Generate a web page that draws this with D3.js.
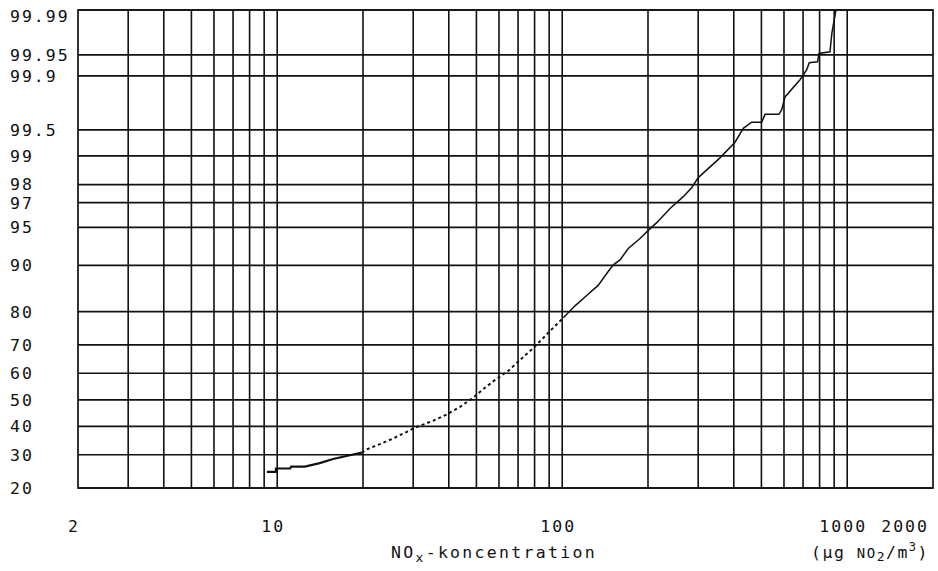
<!DOCTYPE html>
<html>
<head>
<meta charset="utf-8">
<script src="https://cdn.jsdelivr.net/npm/d3@7"></script>
<style>
  html, body { margin: 0; padding: 0; background: #fff; }
  svg { display: block; }
  text { font-family: "DejaVu Sans Mono", "Liberation Mono", monospace; fill: #111; }
</style>
</head>
<body>
<svg id="chart" width="938" height="571"></svg>
<script>
// ---- data ----
const xTickValues = [2, 10, 100, 1000, 2000];
const xTickLabels = ["2", "10", "100", "1000", "2000"];
const xGridValues = [3,4,5,6,7,8,9,10,20,30,40,50,60,70,80,90,100,200,300,400,500,600,700,800,900,1000];
const yTickValues = [20, 30, 40, 50, 60, 70, 80, 90, 95, 97, 98, 99, 99.5, 99.9, 99.95, 99.99];
const yTickLabels = ["20","30","40","50","60","70","80","90","95","97","98","99","99.5","99.9","99.95","99.99"];
const conc = [9.2, 9.9, 9.9, 11.1, 11.2, 12.5, 14.1, 15.7, 17.5, 19.8,
              20.6, 22.9, 25.5, 28.5, 30.4, 35.3, 39.3, 43.8, 48.8, 52.2,
              57.3, 64.7, 80.3, 90.6, 100.9, 110.9, 121.9, 133.9, 143.3, 151.1,
              159.5, 170.5, 187.5, 200.5, 214.6, 239, 266, 284.6, 300.2, 357.8,
              404, 432, 462, 501, 515, 576, 589, 605, 683, 721,
              736, 787, 796, 870, 884, 913];
const cumPct = [24.6, 24.6, 25.6, 25.6, 26.2, 26.2, 27.3, 28.6, 29.6, 30.7,
                31.8, 33.6, 35.6, 38.0, 39.5, 42.1, 44.4, 47.3, 50.9, 53.6,
                57.0, 60.9, 69.5, 74.4, 78.3, 81.5, 84.0, 86.3, 88.6, 90.1,
                90.9, 92.55, 93.8, 94.7, 95.45, 96.6, 97.37, 97.85, 98.30, 98.95,
                99.30, 99.52, 99.595, 99.595, 99.677, 99.677, 99.718, 99.807, 99.887, 99.918,
                99.935, 99.937, 99.9525, 99.955, 99.977, 99.99];
const xTitle = "NO";
const xTitleSub = "x";
const xTitleRest = "-koncentration";

// ---- inverse normal CDF (Acklam) ----
function probit(p) {
  const a = [-3.969683028665376e+01, 2.209460984245205e+02, -2.759285104469687e+02, 1.383577518672690e+02, -3.066479806614716e+01, 2.506628277459239e+00];
  const b = [-5.447609879822406e+01, 1.615858368580409e+02, -1.556989798598866e+02, 6.680131188771972e+01, -1.328068155288572e+01];
  const c = [-7.784894002430293e-03, -3.223964580411365e-01, -2.400758277161838e+00, -2.549732539343734e+00, 4.374664141464968e+00, 2.938163982698783e+00];
  const d = [7.784695709041462e-03, 3.224671290700398e-01, 2.445134137142996e+00, 3.754408661907416e+00];
  const pl = 0.02425, ph = 1 - pl;
  let q, r;
  if (p < pl) {
    q = Math.sqrt(-2 * Math.log(p));
    return (((((c[0]*q+c[1])*q+c[2])*q+c[3])*q+c[4])*q+c[5]) / ((((d[0]*q+d[1])*q+d[2])*q+d[3])*q+1);
  } else if (p <= ph) {
    q = p - 0.5; r = q*q;
    return (((((a[0]*r+a[1])*r+a[2])*r+a[3])*r+a[4])*r+a[5])*q / (((((b[0]*r+b[1])*r+b[2])*r+b[3])*r+b[4])*r+1);
  } else {
    q = Math.sqrt(-2 * Math.log(1 - p));
    return -(((((c[0]*q+c[1])*q+c[2])*q+c[3])*q+c[4])*q+c[5]) / ((((d[0]*q+d[1])*q+d[2])*q+d[3])*q+1);
  }
}

// ---- layout ----
const plotL = 78, plotR = 933, plotT = 10, plotB = 488;
const svg = d3.select("#chart");

const x = d3.scaleLog().domain([2, 2000]).range([plotL, plotR]);
const z = d3.scaleLinear().domain([probit(0.20), probit(0.9999)]).range([plotB, plotT]);
const y = pct => z(probit(pct / 100));

const g = svg.append("g");

// horizontal grid
g.selectAll("line.h").data(yTickValues).join("line")
  .attr("x1", plotL).attr("x2", plotR)
  .attr("y1", d => y(d)).attr("y2", d => y(d))
  .attr("stroke", "#111").attr("stroke-width", 1.7);

// vertical grid
g.selectAll("line.v").data(xGridValues).join("line")
  .attr("x1", d => x(d)).attr("x2", d => x(d))
  .attr("y1", plotT).attr("y2", plotB)
  .attr("stroke", "#111").attr("stroke-width", 1.6);

// frame
g.append("rect").attr("x", plotL).attr("y", plotT)
  .attr("width", plotR - plotL).attr("height", plotB - plotT)
  .attr("fill", "none").attr("stroke", "#111").attr("stroke-width", 1.7);

// y labels
svg.append("g").selectAll("text").data(yTickValues).join("text")
  .attr("x", 10).attr("y", d => Math.max(y(d), plotT + 6))
  .attr("dy", "0.36em")
  .attr("font-size", 16.5).attr("letter-spacing", 2)
  .text((d, i) => yTickLabels[i]);

// x labels
svg.append("g").selectAll("text").data(xTickValues).join("text")
  .attr("x", (d, i) => x(d) - 4)
  .attr("y", 532)
  .attr("text-anchor", (d, i) => i === xTickValues.length - 1 ? "end" : "middle")
  .attr("font-size", 16.5).attr("letter-spacing", 2)
  .text((d, i) => xTickLabels[i]);

// x title
const t = svg.append("text").attr("x", 494).attr("y", 558)
  .attr("text-anchor", "middle").attr("font-size", 16.5).attr("letter-spacing", 2.3);
t.append("tspan").text(xTitle);
t.append("tspan").attr("font-size", 13).attr("dy", 4).text(xTitleSub);
t.append("tspan").attr("dy", -4).text(xTitleRest);

// unit
const u = svg.append("text").attr("x", 929).attr("y", 558)
  .attr("text-anchor", "end").attr("font-size", 16.5).attr("letter-spacing", 1.5);
u.append("tspan").text("(\u00b5g ");
u.append("tspan").attr("font-size", 14).text("NO");
u.append("tspan").attr("font-size", 13).attr("dy", 3).text("2");
u.append("tspan").attr("dy", -3).text("/m");
u.append("tspan").attr("font-size", 12).attr("dy", -7).text("3");
u.append("tspan").attr("dy", 7).text(")");

// curve
const pts = conc.map((c, i) => [c, cumPct[i]]);
const line = d3.line().x(d => x(d[0])).y(d => y(d[1]));
const seg1 = pts.filter(d => d[0] <= 20);
const seg2 = pts.filter(d => d[0] >= 19.8 && d[0] <= 101);
const seg3 = pts.filter(d => d[0] >= 100);

g.append("path").attr("d", line(seg1)).attr("fill", "none")
  .attr("stroke", "#111").attr("stroke-width", 2.2);
g.append("path").attr("d", line(seg2)).attr("fill", "none")
  .attr("stroke", "#111").attr("stroke-width", 2).attr("stroke-dasharray", "3,3");
g.append("path").attr("d", line(seg3)).attr("fill", "none")
  .attr("stroke", "#111").attr("stroke-width", 1.5);
</script>
</body>
</html>
